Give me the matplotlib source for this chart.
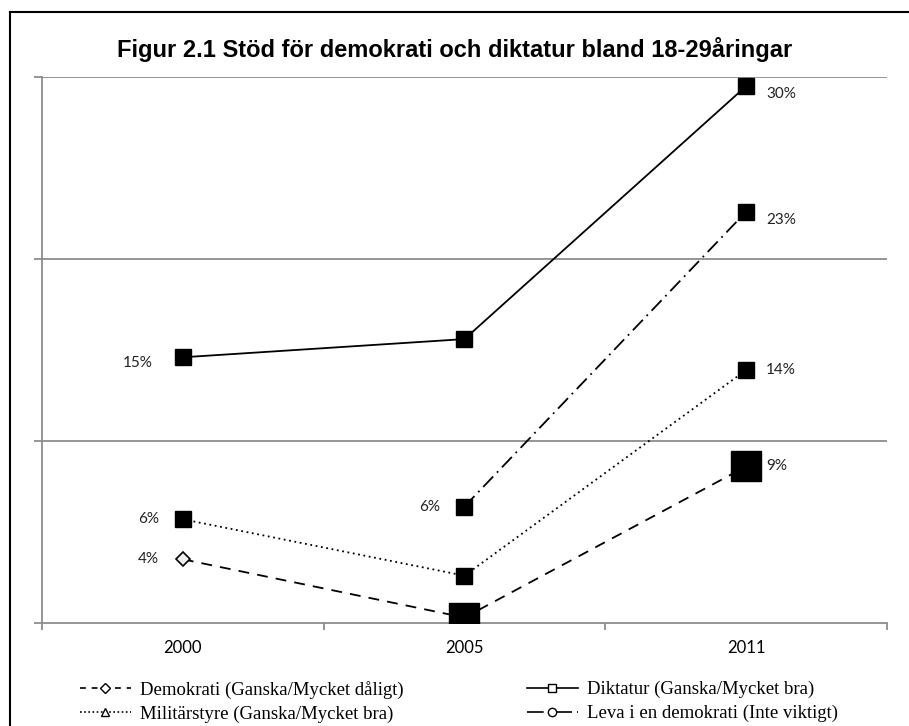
import numpy as np
import matplotlib.pyplot as plt
from matplotlib.lines import Line2D

years = ["2000", "2005", "2011"]

# values (percent)
demokrati = [3.5, 0.3, 8.6]
diktatur = [14.6, 15.6, 29.5]
militar = [5.7, 2.6, 13.9]
leva = [np.nan, 6.4, 22.6]

demokrati_labels = ["4%", "", "9%"]
diktatur_labels = ["15%", "", "30%"]
militar_labels = ["6%", "", "14%"]
leva_labels = ["", "6%", "23%"]

names = ["Demokrati (Ganska/Mycket dåligt)", "Diktatur (Ganska/Mycket bra)",
         "Militärstyre (Ganska/Mycket bra)", "Leva i en demokrati (Inte viktigt)"]

x = np.arange(len(years)) + 0.5

fig = plt.figure(figsize=(9.09, 7.26), dpi=100)
ax = fig.add_axes([42 / 909, 1 - 623 / 726, 845 / 909, 546 / 726])
ax.set_xlim(0, 3)
ax.set_ylim(0, 30)

for yv in [10, 20, 30]:
    ax.axhline(yv, color="#8c8c8c", lw=1.3, zorder=0)

series = [
    (demokrati, demokrati_labels, (0, (6, 4.5))),
    (diktatur, diktatur_labels, "-"),
    (militar, militar_labels, (0, (1, 2))),
    (leva, leva_labels, (0, (8, 3, 1, 3))),
]
for vals, labs, ls in series:
    ax.plot(x, vals, color="black", lw=1.3, linestyle=ls, zorder=2)

# point markers, as drawn in the original
small = 11.5
big = 22
ax.plot(x[0], demokrati[0], marker="D", ms=7, mfc="#f0f0f0", mec="black", mew=1.2, zorder=3)
ax.plot(x[1:], demokrati[1:], "s", ms=big, color="black", zorder=3)
ax.plot(x, diktatur, "s", ms=small, color="black", zorder=3)
ax.plot(x, militar, "s", ms=small, color="black", zorder=3)
ax.plot(x[1:], leva[1:], "s", ms=small, color="black", zorder=3)

lab_font = dict(family="Lato", fontsize=11, color="#222222")
for vals, labs, _ in series:
    for i, (v, t) in enumerate(zip(vals, labs)):
        if not t:
            continue
        if i < 2:
            off = (-24, 0) if t != "15%" else (-30, -6)
            ax.annotate(t, (x[i], v), xytext=off, textcoords="offset pixels",
                        ha="right", va="center", **lab_font)
        else:
            dy = -8 if t in ("30%", "23%") else 0
            ax.annotate(t, (x[i], v), xytext=(20, dy), textcoords="offset pixels",
                        ha="left", va="center", **lab_font)

ax.set_xticks([0, 1, 2, 3], minor=False)
ax.set_xticklabels([])
ax.set_xticks(x, minor=True)
ax.set_xticklabels(years, minor=True, family="Lato", fontsize=12)
ax.tick_params(axis="x", which="major", length=5, color="#8c8c8c", width=1.3)
ax.tick_params(axis="x", which="minor", length=0, pad=12)
ax.set_yticks([0, 10, 20, 30])
ax.set_yticklabels([])
ax.tick_params(axis="y", length=6, color="#8c8c8c", width=1.3)

for s in ["top", "right"]:
    ax.spines[s].set_visible(False)
for s in ["left", "bottom"]:
    ax.spines[s].set_color("#8c8c8c")
    ax.spines[s].set_linewidth(1.3)

fig.text(455 / 909, 1 - 50 / 726, "Figur 2.1 Stöd för demokrati och diktatur bland 18-29åringar",
         ha="center", va="center", family="Liberation Sans", fontweight="bold", fontsize=17)

handles = [
    Line2D([], [], color="black", lw=1.2, linestyle=(0, (3.5, 3.5)), marker="D", ms=5.5, mfc="white", mec="black"),
    Line2D([], [], color="black", lw=1.2, linestyle="-", marker="s", ms=6, mfc="white", mec="black"),
    Line2D([], [], color="black", lw=1.2, linestyle=(0, (1, 1.5)), marker="^", ms=6, mfc="white", mec="black"),
    Line2D([], [], color="black", lw=1.2, linestyle=(0, (10, 3, 1, 3)), marker="o", ms=6, mfc="white", mec="black"),
]
leg_kw = dict(loc="upper left", frameon=False, prop=dict(family="Liberation Serif", size=13.5),
              handlelength=2.7, handletextpad=0.5, labelspacing=0.35,
              borderpad=0, borderaxespad=0)
leg1 = fig.legend([handles[0], handles[2]], [names[0], names[2]],
                  bbox_to_anchor=(80 / 909, 1 - 681 / 726), **leg_kw)
leg2 = fig.legend([handles[1], handles[3]], [names[1], names[3]],
                  bbox_to_anchor=(527 / 909, 1 - 681 / 726), **leg_kw)

# outer chart border (only top and left visible)
fig.add_artist(Line2D([10 / 909, 10 / 909], [0, 1 - 12 / 726], color="black", lw=1.5))
fig.add_artist(Line2D([10 / 909, 1], [1 - 12 / 726, 1 - 12 / 726], color="black", lw=1.5))

fig.savefig("out.png", dpi=100)
